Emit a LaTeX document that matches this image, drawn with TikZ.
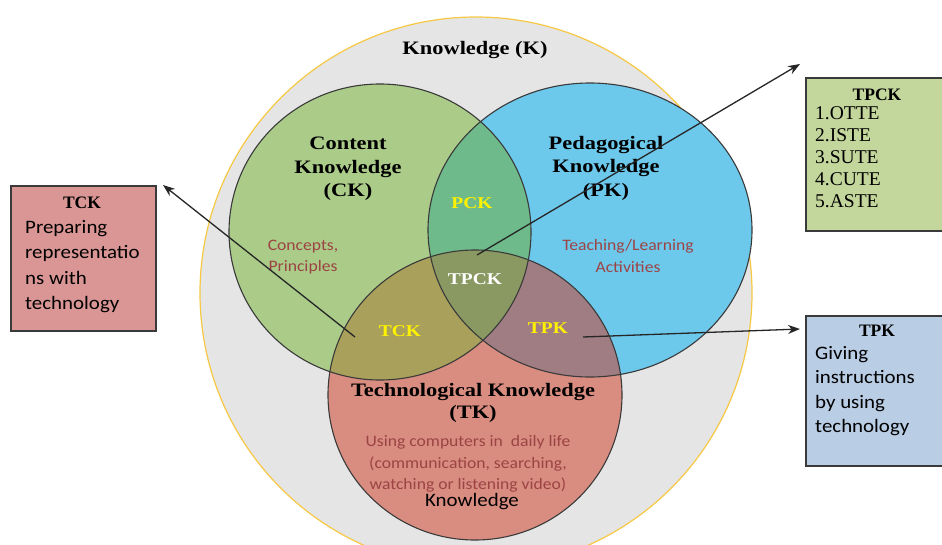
\documentclass[tikz,border=0pt]{standalone}
\usepackage{fontspec}
\usetikzlibrary{arrows.meta}
\newfontfamily\cambr[FakeStretch=1.18]{Liberation Serif}
\newfontfamily\calib[FakeStretch=1.1]{Carlito}
\newfontfamily\timesr{Liberation Serif}
\definecolor{outerfill}{HTML}{E5E5E5}
\definecolor{outerline}{HTML}{F7C843}
\definecolor{ckfill}{HTML}{ABCB89}
\definecolor{pkfill}{HTML}{6DC9EC}
\definecolor{tkfill}{HTML}{D98C80}
\definecolor{pckfill}{HTML}{6EBA8A}
\definecolor{tckfill}{HTML}{A9A05B}
\definecolor{tpkfill}{HTML}{A07D83}
\definecolor{tpckfill}{HTML}{8A9962}
\definecolor{redtxt}{HTML}{9C4444}
\definecolor{edge}{HTML}{3A3A3A}
\definecolor{tckbox}{HTML}{D99694}
\definecolor{tpckbox}{HTML}{C3D69B}
\definecolor{tpkbox}{HTML}{B9CDE5}
\begin{document}
\begin{tikzpicture}[x=1pt,y=-1pt,
 ring/.style={draw=edge,line width=1.1pt},
 biglbl/.style={font=\cambr\bfseries\fontsize{19}{23.5}\selectfont,align=center,inner sep=0},
 midlbl/.style={font=\cambr\bfseries\fontsize{16.5}{20}\selectfont,inner sep=0},
 redlbl/.style={font=\calib\fontsize{16}{21.5}\selectfont,text=redtxt,align=center,inner sep=0},
 infobox/.style={draw=edge,line width=1.5pt,inner sep=0,anchor=north west},
 boxtitle/.style={font=\timesr\bfseries\fontsize{17.5}{19}\selectfont,inner sep=0},
 boxsans/.style={font=\calib\fontsize{19}{25.5}\selectfont,align=left,inner sep=0,anchor=north west},
 boxserif/.style={font=\timesr\fontsize{19.5}{22}\selectfont,align=left,inner sep=0,anchor=north west},
 pointer/.style={draw=black!85,line width=1.3pt,-{Stealth[length=12pt,width=9pt]}},
 ckshape/.style={x radius=151pt,y radius=148pt},
 pkshape/.style={x radius=162pt,y radius=147pt},
 tkshape/.style={x radius=147pt,y radius=145pt}]

\clip (0,0) rectangle (942,544);
\fill[white] (0,0) rectangle (942,544);

\coordinate (K) at (476,293);
\coordinate (CKc) at (380,232);
\coordinate (PKc) at (590,230);
\coordinate (TKc) at (475,395);

% outer knowledge circle
\filldraw[fill=outerfill,draw=outerline,line width=1.2pt] (K) circle[radius=276pt];

% three circles
\fill[ckfill] (CKc) ellipse[ckshape];
\fill[pkfill] (PKc) ellipse[pkshape];
\fill[tkfill] (TKc) ellipse[tkshape];
\begin{scope}
  \clip (CKc) ellipse[ckshape];
  \fill[pckfill] (PKc) ellipse[pkshape];
  \fill[tckfill] (TKc) ellipse[tkshape];
\end{scope}
\begin{scope}
  \clip (PKc) ellipse[pkshape];
  \fill[tpkfill] (TKc) ellipse[tkshape];
\end{scope}
\begin{scope}
  \clip (CKc) ellipse[ckshape];
  \clip (PKc) ellipse[pkshape];
  \fill[tpckfill] (TKc) ellipse[tkshape];
\end{scope}
\draw[ring] (CKc) ellipse[ckshape];
\draw[ring] (PKc) ellipse[pkshape];
\draw[ring] (TKc) ellipse[tkshape];

% labels
\node[biglbl] (Klbl) at (475,50) {Knowledge (K)};
\node[biglbl] (CKlbl) at (348,169) {Content\\Knowledge\\(CK)};
\node[biglbl] (PKlbl) at (606,168) {Pedagogical\\Knowledge\\(PK)};
\node[biglbl,font=\cambr\bfseries\fontsize{19}{21.5}\selectfont] (TKlbl) at (473,403) {Technological Knowledge\\(TK)};

\node[midlbl,text=yellow] (PCK) at (472,203) {PCK};
\node[midlbl,text=white] (TPCK) at (475,279) {TPCK};
\node[midlbl,text=yellow] (TCK) at (400,331) {TCK};
\node[midlbl,text=yellow] (TPK) at (548,328) {TPK};

\node[redlbl] (ckdesc) at (303,257) {Concepts,\\Principles};
\node[redlbl] (pkdesc) at (628,256) {Teaching/Learning\\Activities};
\node[redlbl] (tkdesc) at (468,464) {Using computers in\ \ daily life\\(communication, searching,\\watching or listening video)};
\node[font=\calib\fontsize{19}{22}\selectfont,inner sep=0] (tkword) at (472,502) {Knowledge};

% info boxes
\node[infobox,fill=tckbox,minimum width=145pt,minimum height=145pt] (tckbox) at (10,185) {};
\node[boxtitle] (tcktitle) at (82,203) {TCK};
\node[boxsans] (tckbody) at (25,220) {Preparing\\representatio\\ns with\\technology};

\node[infobox,fill=tpckbox,minimum width=160pt,minimum height=153pt] (tpckbox) at (805,77) {};
\node[boxtitle] (tpcktitle) at (877,95) {TPCK};
\node[boxserif] (tpckbody) at (815,106) {1.OTTE\\2.ISTE\\3.SUTE\\4.CUTE\\5.ASTE};

\node[infobox,fill=tpkbox,minimum width=160pt,minimum height=150pt] (tpkbox) at (805,315) {};
\node[boxtitle] (tpktitle) at (877,331) {TPK};
\node[boxsans,font=\calib\fontsize{19}{24.5}\selectfont] (tpkbody) at (815,346) {Giving\\instructions\\by using\\technology};

% pointers
\coordinate (a1s) at (355,337); \coordinate (a1e) at (163,185);
\coordinate (a2s) at (477,255); \coordinate (a2e) at (800,64);
\coordinate (a3s) at (583,337); \coordinate (a3e) at (800,329);
\draw[pointer] (a1s) -- (a1e);
\draw[pointer] (a2s) -- (a2e);
\draw[pointer] (a3s) -- (a3e);
\end{tikzpicture}
\end{document}
